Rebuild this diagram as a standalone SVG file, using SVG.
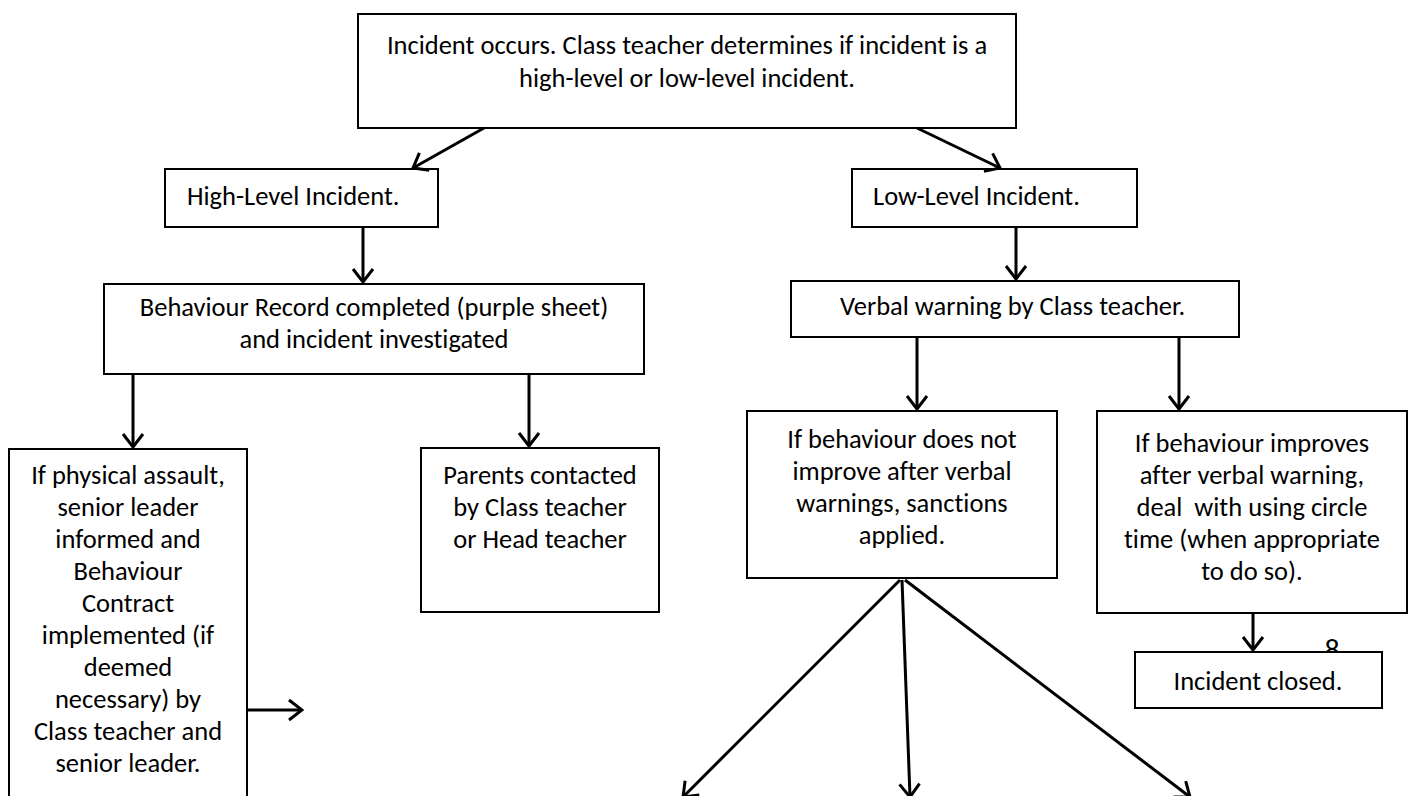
<svg xmlns="http://www.w3.org/2000/svg" width="1410" height="796" viewBox="0 0 1410 796">
<style>
.box{fill:#fff;stroke:#000;stroke-width:2}
text{font-family:Carlito,Lato,"Liberation Sans",sans-serif;font-size:26.5px;fill:#000;font-variant-ligatures:none}
.c{text-anchor:middle}
.conn line{stroke:#000;stroke-width:3;fill:none}
</style>
<defs>
<marker id="ah" viewBox="-18 -12 20 24" markerWidth="20" markerHeight="24" refX="0" refY="0" orient="auto" markerUnits="userSpaceOnUse">
<path d="M-13,-10 L0,0 L-13,10" fill="none" stroke="#000" stroke-width="3"/>
</marker>
</defs>
<rect width="1410" height="796" fill="#fff"/>
<text x="1332" y="660" style="font-size:30px" class="c">8</text>
<g id="n-start">
<rect class="box" x="358" y="14" width="658" height="114"/>
<text class="c" x="687" y="54">Incident occurs. Class teacher determines if incident is a</text>
<text class="c" x="687" y="87">high-level or low-level incident.</text>
</g>
<g id="n-high">
<rect class="box" x="165" y="169" width="273" height="58"/>
<text x="187" y="205">High-Level Incident.</text>
</g>
<g id="n-low">
<rect class="box" x="852" y="169" width="285" height="58"/>
<text x="873" y="205">Low-Level Incident.</text>
</g>
<g id="n-record">
<rect class="box" x="104" y="284" width="540" height="90"/>
<text class="c" x="374" y="316">Behaviour Record completed (purple sheet)</text>
<text class="c" x="374" y="348">and incident investigated</text>
</g>
<g id="n-assault">
<rect class="box" x="9" y="449" width="238" height="360"/>
<text class="c" x="128" y="484">If physical assault,</text>
<text class="c" x="128" y="516">senior leader</text>
<text class="c" x="128" y="548">informed and</text>
<text class="c" x="128" y="580">Behaviour</text>
<text class="c" x="128" y="612">Contract</text>
<text class="c" x="128" y="644">implemented (if</text>
<text class="c" x="128" y="676">deemed</text>
<text class="c" x="128" y="708">necessary) by</text>
<text class="c" x="128" y="740">Class teacher and</text>
<text class="c" x="128" y="772">senior leader.</text>
</g>
<g id="n-parents">
<rect class="box" x="421" y="448" width="238" height="164"/>
<text class="c" x="540" y="484">Parents contacted</text>
<text class="c" x="540" y="516">by Class teacher</text>
<text class="c" x="540" y="548">or Head teacher</text>
</g>
<g id="n-verbal">
<rect class="box" x="791" y="281" width="448" height="56"/>
<text x="840" y="315">Verbal warning by Class teacher.</text>
</g>
<g id="n-sanctions">
<rect class="box" x="747" y="411" width="310" height="167"/>
<text class="c" x="902" y="448">If behaviour does not</text>
<text class="c" x="902" y="480">improve after verbal</text>
<text class="c" x="902" y="512">warnings, sanctions</text>
<text class="c" x="902" y="544">applied.</text>
</g>
<g id="n-circle">
<rect class="box" x="1097" y="411" width="310" height="202"/>
<text class="c" x="1252" y="452">If behaviour improves</text>
<text class="c" x="1252" y="484">after verbal warning,</text>
<text class="c" x="1252" y="516" xml:space="preserve">deal  with using circle</text>
<text class="c" x="1252" y="548">time (when appropriate</text>
<text class="c" x="1252" y="580">to do so).</text>
</g>
<g id="n-closed">
<rect class="box" x="1135" y="652" width="247" height="56"/>
<text class="c" x="1258" y="690">Incident closed.</text>
</g>
<g id="connectors" class="conn">
<line x1="484" y1="128" x2="413" y2="168" marker-end="url(#ah)"/>
<line x1="917" y1="128" x2="1000" y2="168" marker-end="url(#ah)"/>
<line x1="363" y1="227" x2="363" y2="282" marker-end="url(#ah)"/>
<line x1="1016" y1="227" x2="1016" y2="279" marker-end="url(#ah)"/>
<line x1="133" y1="374" x2="133" y2="447" marker-end="url(#ah)"/>
<line x1="529" y1="374" x2="529" y2="446" marker-end="url(#ah)"/>
<line x1="917" y1="337" x2="917" y2="409" marker-end="url(#ah)"/>
<line x1="1179" y1="337" x2="1179" y2="409" marker-end="url(#ah)"/>
<line x1="1253" y1="613" x2="1253" y2="650" marker-end="url(#ah)"/>
<line x1="247" y1="710" x2="302" y2="710" marker-end="url(#ah)"/>
<line x1="900" y1="580" x2="683" y2="797" marker-end="url(#ah)"/>
<line x1="902" y1="580" x2="910" y2="797" marker-end="url(#ah)"/>
<line x1="905" y1="580" x2="1190" y2="797" marker-end="url(#ah)"/>
</g>
</svg>
